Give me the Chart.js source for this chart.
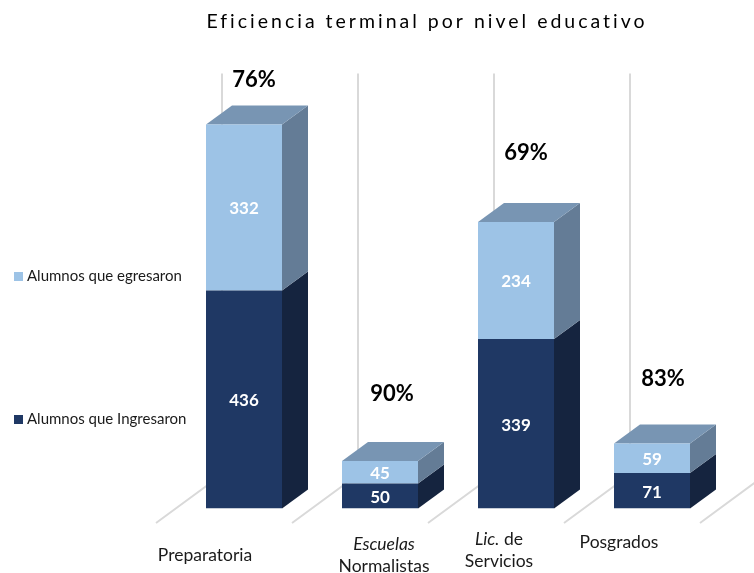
<!DOCTYPE html>
<html>
<head>
<meta charset="utf-8">
<script src="https://cdn.jsdelivr.net/npm/chart.js@4"></script>
<style>
html,body{margin:0;padding:0;background:#fff}
canvas{display:block}
</style>
</head>
<body>
<canvas id="c" width="754" height="573"></canvas>
<script>
const titleText = 'Eficiencia terminal por nivel educativo';
const categories = ['Preparatoria', 'Escuelas Normalistas', 'Lic. de Servicios', 'Posgrados'];
const seriesNames = ['Alumnos que Ingresaron', 'Alumnos que egresaron'];
const ingresaron = [436, 50, 339, 71];
const egresaron = [332, 45, 234, 59];
const eficiencia = [76, 90, 69, 83];

const FONT = 'Lato, Carlito, sans-serif';
const COL = {
  light: '#9DC3E6', dark: '#1F3864',
  lightSide: '#647C96', darkSide: '#15243F', top: '#7895B3',
  grid: '#D9D9D9', text: '#1A1A1A'
};
// drawing-only layout of the 3D box and the free-floating text
const DEPTH = {dx: 26, dy: -19};
const FLOOR = {frontDx: -20, frontDy: 14.5, backDx: 46, backDy: -34};
const LEGEND_POS = [{x: 14, y: 415}, {x: 14, y: 272}];
const PCT_OFFSET = [{dx: 10, dy: -45}, {dx: 12, dy: -67}, {dx: 10, dy: -69}, {dx: 11, dy: -65}];
const LABEL_LINES = [
  [{cx: 205, y: 555, runs: [['Preparatoria', false]]}],
  [{cx: 384, y: 544, runs: [['Escuelas', true]]}, {cx: 384, y: 566, runs: [['Normalistas', false]]}],
  [{cx: 499, y: 539, runs: [['Lic.', true], [' de', false]]}, {cx: 499, y: 561, runs: [['Servicios', false]]}],
  [{cx: 619, y: 542, runs: [['Posgrados', false]]}]
];

function poly(ctx, pts, fill) {
  ctx.beginPath();
  pts.forEach((p, i) => i ? ctx.lineTo(p[0], p[1]) : ctx.moveTo(p[0], p[1]));
  ctx.closePath();
  ctx.fillStyle = fill;
  ctx.fill();
}

const threeD = {
  id: 'threeD',
  beforeDatasetsDraw(chart) {
    const {ctx, scales: {x, y}} = chart;
    const step = x.getPixelForValue(1) - x.getPixelForValue(0);
    const base = y.getPixelForValue(0);
    const top = y.getPixelForValue(y.max);
    ctx.save();
    ctx.strokeStyle = COL.grid;
    ctx.lineCap = 'butt';
    for (let i = 0; i <= categories.length; i++) {
      const edge = x.getPixelForValue(0) - step / 2 + i * step;
      ctx.lineWidth = 2;
      ctx.beginPath();
      ctx.moveTo(edge + FLOOR.frontDx, base + FLOOR.frontDy);
      ctx.lineTo(edge + FLOOR.backDx, base + FLOOR.backDy);
      ctx.lineTo(edge + FLOOR.backDx, top + DEPTH.dy);
      ctx.stroke();
    }
    // side faces and roof of each stack
    const metaA = chart.getDatasetMeta(0).data;
    const metaB = chart.getDatasetMeta(1).data;
    categories.forEach((_, i) => {
      [[metaA[i], COL.darkSide], [metaB[i], COL.lightSide]].forEach(([bar, fill]) => {
        const r = bar.x + bar.width / 2;
        poly(ctx, [[r, bar.base], [r + DEPTH.dx, bar.base + DEPTH.dy],
                   [r + DEPTH.dx, bar.y + DEPTH.dy], [r, bar.y]], fill);
      });
      const b = metaB[i];
      const l = b.x - b.width / 2, r = b.x + b.width / 2;
      poly(ctx, [[l, b.y], [r, b.y], [r + DEPTH.dx, b.y + DEPTH.dy], [l + DEPTH.dx, b.y + DEPTH.dy]], COL.top);
    });
    ctx.restore();
  },
  afterDatasetsDraw(chart) {
    const {ctx} = chart;
    const metaA = chart.getDatasetMeta(0).data;
    const metaB = chart.getDatasetMeta(1).data;
    ctx.save();
    ctx.textBaseline = 'middle';
    // values inside bars
    ctx.textAlign = 'center';
    ctx.fillStyle = '#fff';
    ctx.font = 'bold 17px ' + FONT;
    categories.forEach((_, i) => {
      ctx.fillText(String(ingresaron[i]), metaA[i].x, (metaA[i].y + metaA[i].base) / 2 + 1.5);
      ctx.fillText(String(egresaron[i]), metaB[i].x, (metaB[i].y + metaB[i].base) / 2 + 1.5);
    });
    // percentages above stacks
    ctx.fillStyle = '#000';
    ctx.font = 'bold 22px ' + FONT;
    eficiencia.forEach((v, i) => {
      ctx.fillText(v + '%', metaB[i].x + PCT_OFFSET[i].dx, metaB[i].y + PCT_OFFSET[i].dy);
    });
    // category labels (mixed italic runs)
    ctx.fillStyle = COL.text;
    ctx.textAlign = 'left';
    LABEL_LINES.forEach(lines => lines.forEach(line => {
      const fonts = line.runs.map(r => (r[1] ? 'italic ' : '') + '17.5px ' + FONT);
      let total = 0;
      const widths = line.runs.map((r, k) => { ctx.font = fonts[k]; const w = ctx.measureText(r[0]).width; total += w; return w; });
      let px = line.cx - total / 2;
      line.runs.forEach((r, k) => { ctx.font = fonts[k]; ctx.fillText(r[0], px, line.y); px += widths[k]; });
    }));
    // legend
    ctx.font = '15px ' + FONT;
    seriesNames.forEach((name, i) => {
      const p = LEGEND_POS[i];
      ctx.fillStyle = i ? COL.light : COL.dark;
      ctx.fillRect(p.x, p.y, 9, 9);
      ctx.fillStyle = COL.text;
      ctx.fillText(name, p.x + 13, p.y + 4);
    });
    // title
    ctx.fillStyle = '#000';
    ctx.font = '19.5px ' + FONT;
    ctx.textAlign = 'center';
    if ('letterSpacing' in ctx) ctx.letterSpacing = '3px';
    ctx.fillText(titleText, 427, 22);
    ctx.restore();
  }
};

new Chart(document.getElementById('c'), {
  type: 'bar',
  data: {
    labels: categories,
    datasets: [
      {label: seriesNames[0], data: ingresaron, backgroundColor: COL.dark, stack: 's'},
      {label: seriesNames[1], data: egresaron, backgroundColor: COL.light, stack: 's'}
    ]
  },
  options: {
    responsive: false,
    animation: false,
    events: [],
    layout: {padding: {left: 176, right: 34, top: 92.5, bottom: 64.5}},
    datasets: {bar: {categoryPercentage: 1, barPercentage: 76 / 136, borderWidth: 0}},
    plugins: {legend: {display: false}, title: {display: false}, tooltip: {enabled: false}},
    scales: {
      x: {display: false, stacked: true},
      y: {display: false, stacked: true, min: 0, max: 832}
    }
  },
  plugins: [threeD]
});
</script>
</body>
</html>
